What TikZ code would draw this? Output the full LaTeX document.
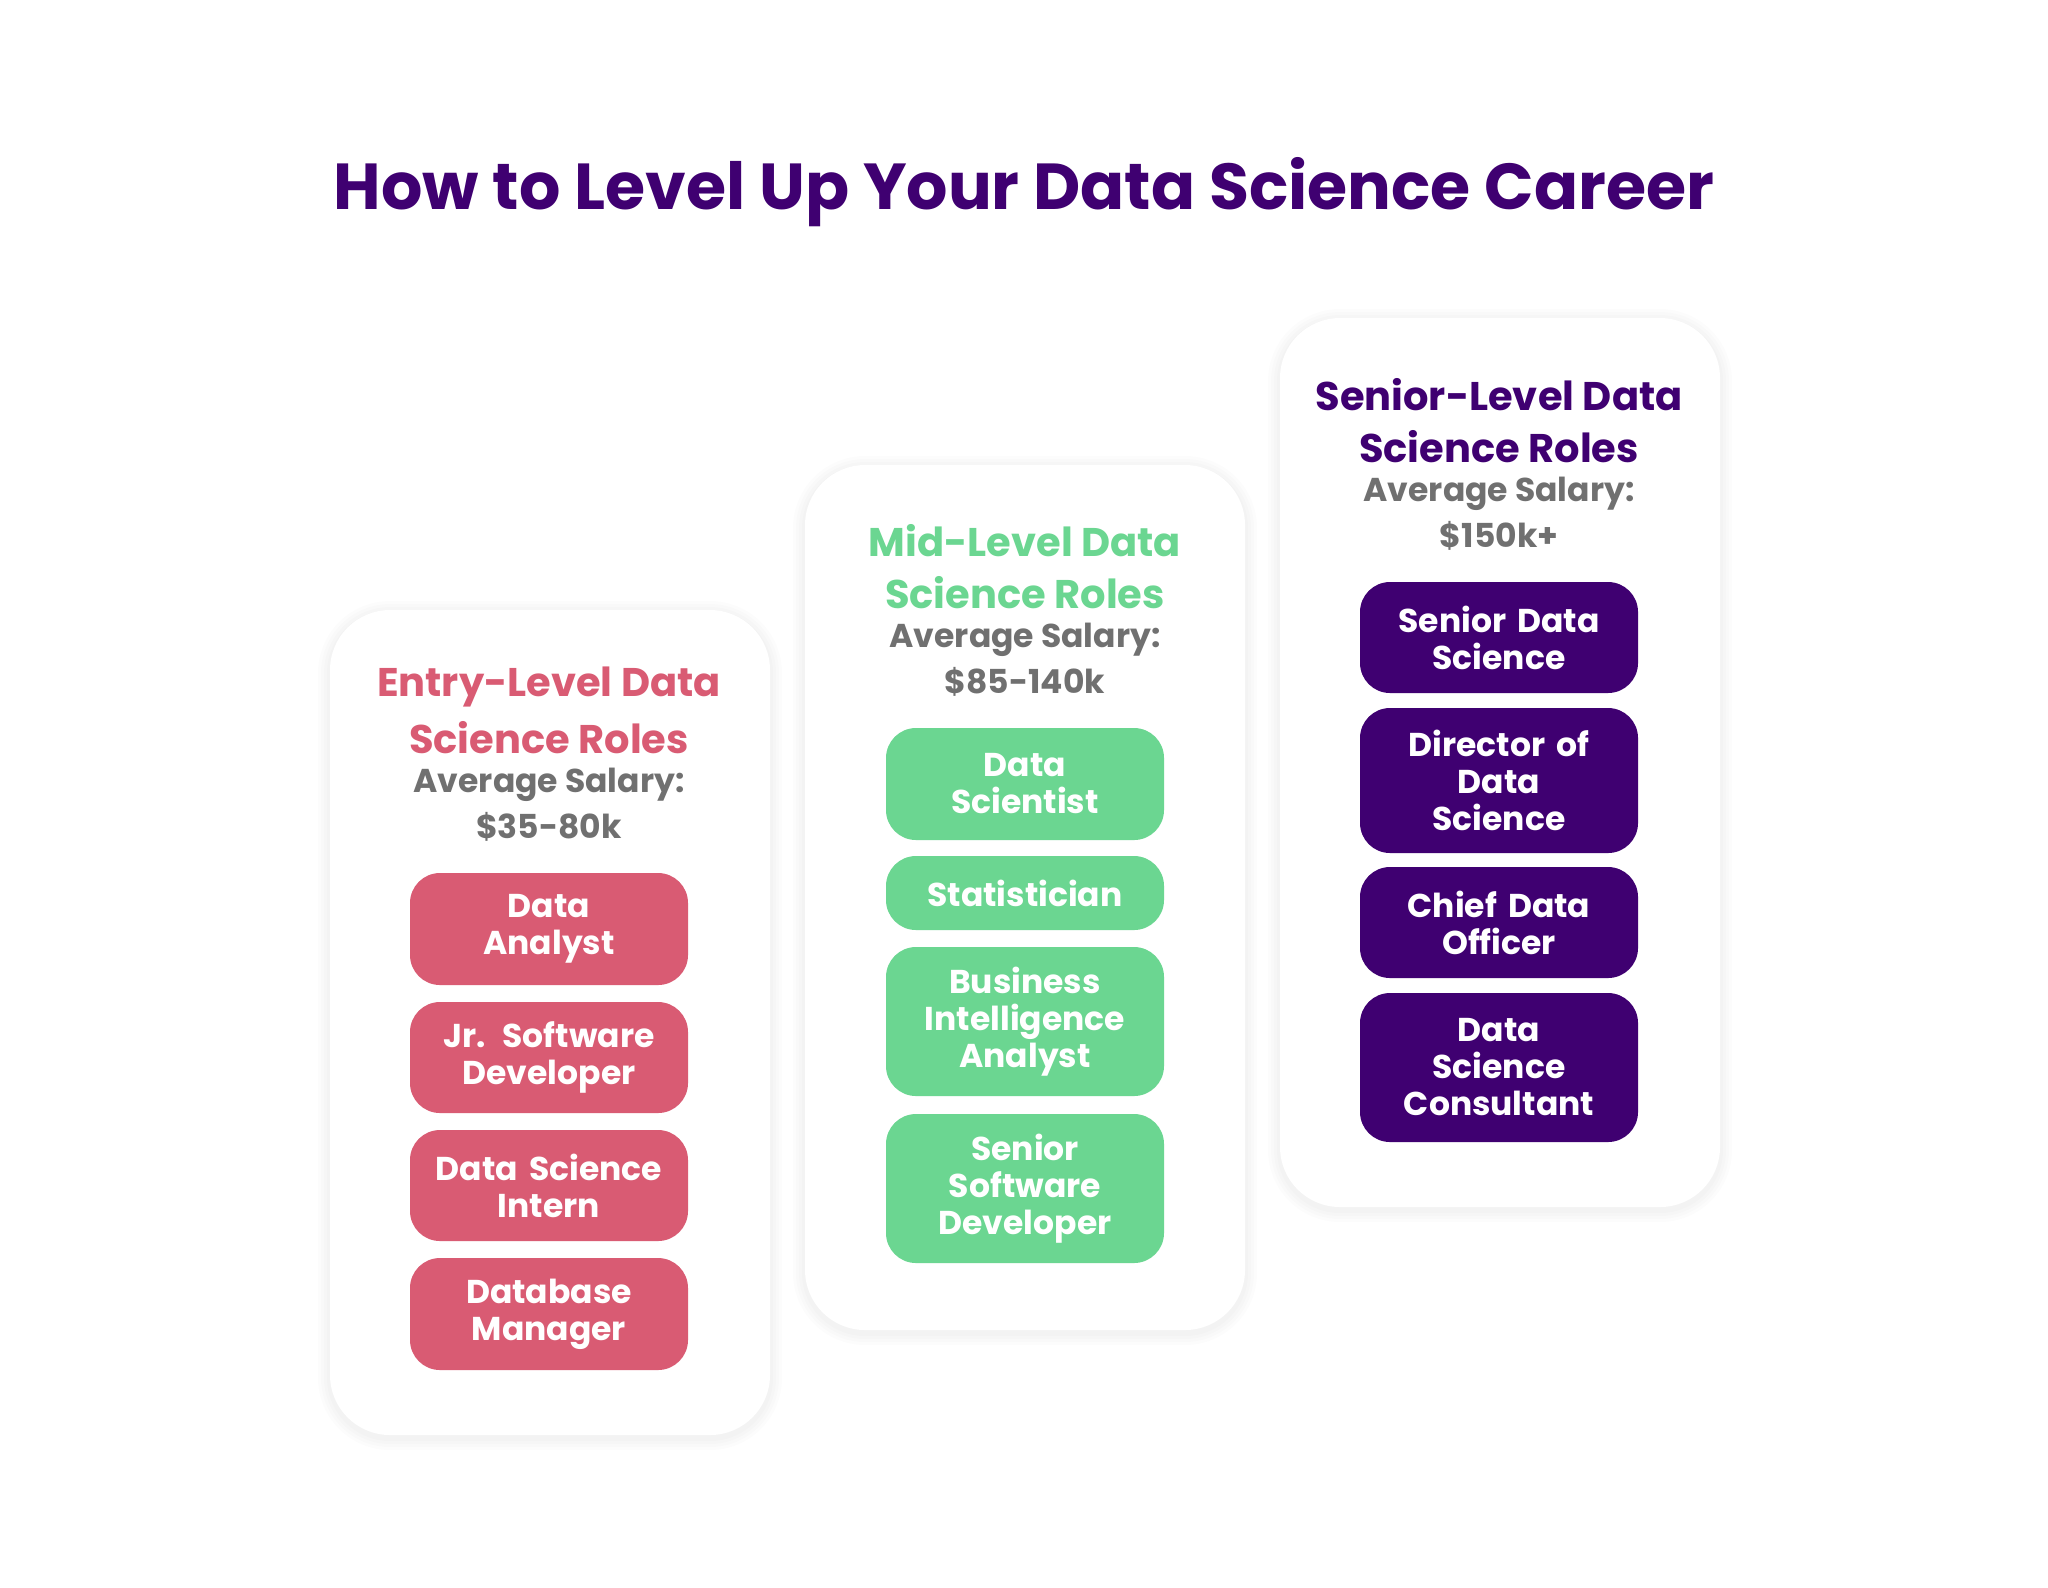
\documentclass[tikz,border=0pt]{standalone}
\usepackage{fontspec}
\setmainfont{Poppins}
\definecolor{pinkc}{HTML}{D95B73}
\definecolor{greenc}{HTML}{6BD691}
\definecolor{purplec}{HTML}{3F0071}
\definecolor{grayc}{HTML}{707070}
\tikzset{
 card/.style={fill=white,rounded corners=30pt},
 role/.style={rounded corners=15pt,text=white,font=\fontsize{16.5}{18.5}\selectfont\bfseries,align=center,text width=130pt,minimum width=139pt,inner sep=2pt},
 head/.style={font=\fontsize{20}{20}\selectfont\bfseries,align=center},
 sal/.style={text=grayc,font=\fontsize{16.5}{16}\selectfont\bfseries,align=center}
}
\newcommand{\softcard}[4]{%
 \foreach \d in {12,9,6,3}{\fill[black,opacity=0.012,rounded corners=30pt+\d*0.5pt] (#1-\d,#2-\d+3) rectangle (#3+\d,#4+\d+3);}
 \path[card] (#1,#2) rectangle (#3,#4);}
\begin{document}
\begin{tikzpicture}[x=0.5pt,y=-0.5pt]
\useasboundingbox[fill=white] (0,0) rectangle (2048,1587);
\node[text=purplec,font=\fontsize{32.5}{32}\selectfont\bfseries] (title) at (1024,192) {How to Level Up Your Data Science Career};
% cards
\softcard{330}{610}{770}{1435}
\softcard{805}{465}{1245}{1330}
\softcard{1280}{318}{1720}{1207}
% entry
\node[head,text=pinkc] (h1a) at (549,687) {Entry-Level Data};
\node[head,text=pinkc] (h1b) at (549,738) {Science Roles};
\node[sal] (s1a) at (549,785) {Average Salary:};
\node[sal] (s1b) at (549,827) {\$35-80k};
\node[role,fill=pinkc,minimum height=56pt] (e1) at (549,929) {Data\\Analyst};
\node[role,fill=pinkc,minimum height=55.5pt] (e2) at (549,1057.5) {Jr. Software\\Developer};
\node[role,fill=pinkc,minimum height=55.5pt] (e3) at (549,1185.5) {Data Science\\Intern};
\node[role,fill=pinkc,minimum height=56pt] (e4) at (549,1314) {Database\\Manager};
% mid
\node[head,text=greenc] (h2a) at (1025,541) {Mid-Level Data};
\node[head,text=greenc] (h2b) at (1025,593) {Science Roles};
\node[sal] (s2a) at (1025,640) {Average Salary:};
\node[sal] (s2b) at (1025,682) {\$85-140k};
\node[role,fill=greenc,minimum height=56pt] (m1) at (1025,784) {Data\\Scientist};
\node[role,fill=greenc,minimum height=37pt] (m2) at (1025,893) {Statistician};
\node[role,fill=greenc,minimum height=74.5pt] (m3) at (1025,1021.5) {Business\\Intelligence\\Analyst};
\node[role,fill=greenc,minimum height=74.5pt] (m4) at (1025,1188.5) {Senior\\Software\\Developer};
% senior
\node[head,text=purplec] (h3a) at (1499,395) {Senior-Level Data};
\node[head,text=purplec] (h3b) at (1499,447) {Science Roles};
\node[sal] (s3a) at (1499,494) {Average Salary:};
\node[sal] (s3b) at (1499,536) {\$150k+};
\node[role,fill=purplec,minimum height=55.5pt] (r1) at (1499,637.5) {Senior Data\\Science};
\node[role,fill=purplec,minimum height=72.5pt] (r2) at (1499,780.5) {Director of\\Data\\Science};
\node[role,fill=purplec,minimum height=55.5pt] (r3) at (1499,922.5) {Chief Data\\Officer};
\node[role,fill=purplec,minimum height=74.5pt] (r4) at (1499,1067.5) {Data\\Science\\Consultant};
\end{tikzpicture}
\end{document}
